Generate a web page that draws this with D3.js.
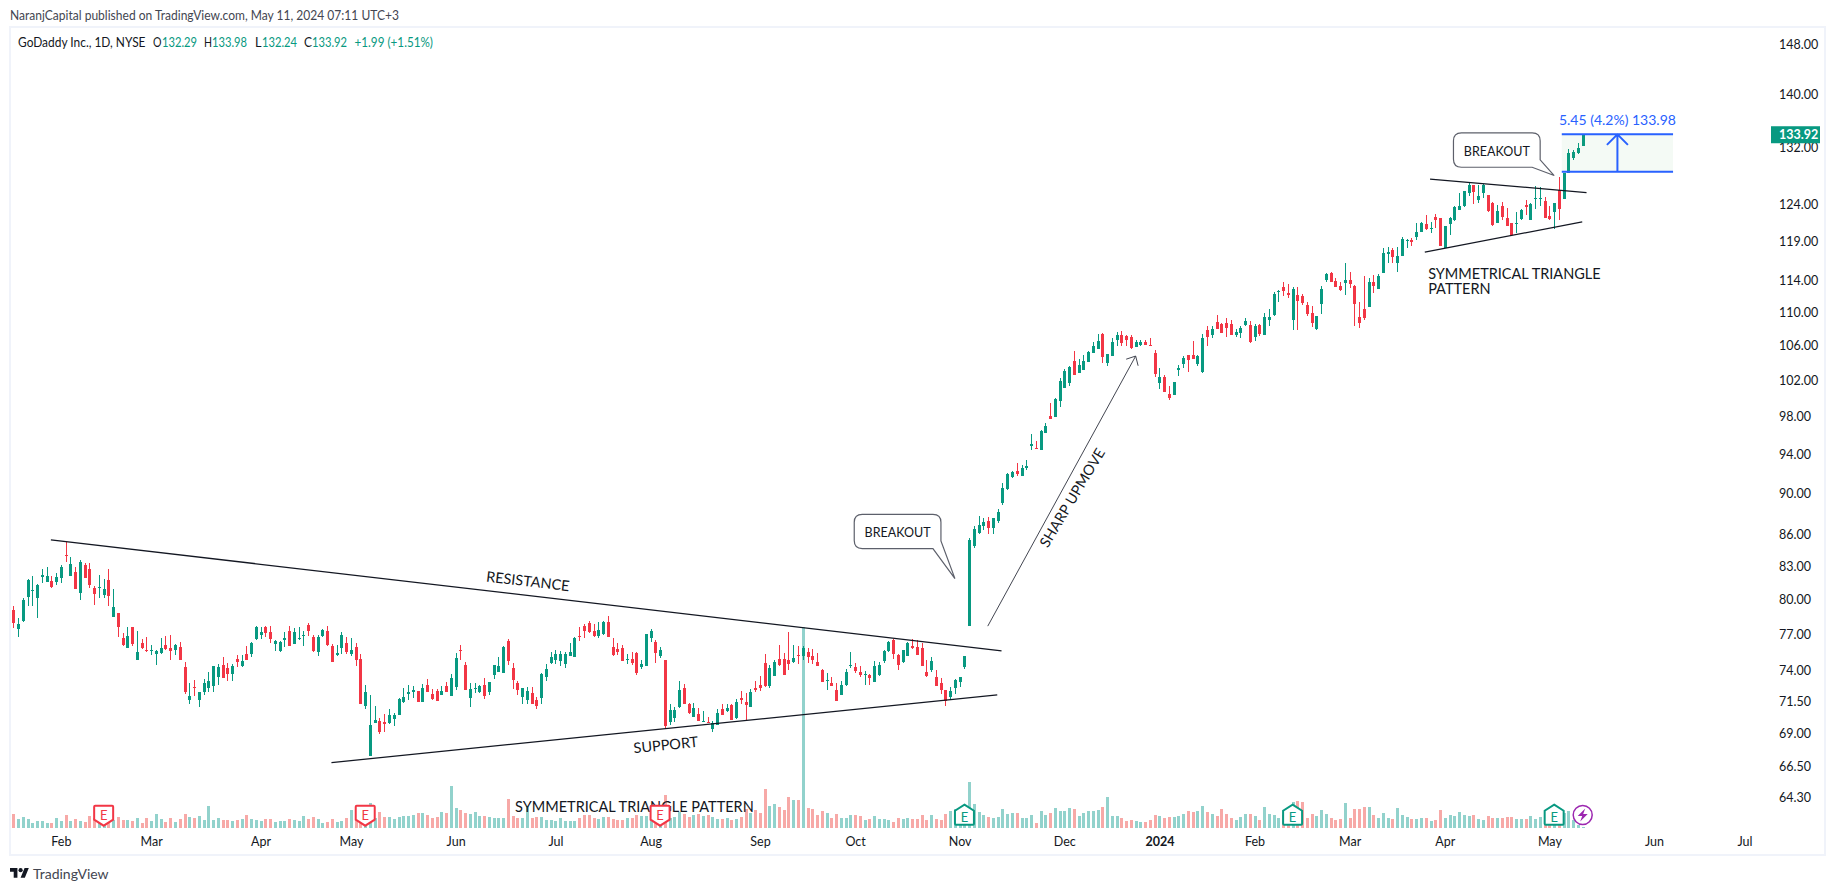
<!DOCTYPE html>
<html><head><meta charset="utf-8">
<script src="https://cdn.jsdelivr.net/npm/d3@7"></script>
<style>
html,body{margin:0;padding:0;background:#fff;overflow:hidden}
svg{display:block}
text{font-family:Lato,"Open Sans",sans-serif;fill:#131722}
</style></head><body>
<svg id="c" width="1835" height="891"></svg>
<script>
const opens=[79.11,77.49,78.17,80.29,80.82,80.2,82.09,81.63,81.69,81.6,
82.0,84.08,82.18,82.51,80.64,83.15,82.78,81.06,81.09,80.44,
81.78,78.52,78.84,76.69,75.88,77.6,74.88,76.27,75.68,75.62,
75.37,75.43,76.07,75.82,75.68,75.93,74.27,71.6,72.64,71.6,
72.24,72.59,72.75,73.47,74.43,74.17,73.71,74.96,74.35,75.34,
75.37,76.6,76.94,77.63,77.2,76.21,75.57,76.55,77.29,76.18,
76.6,76.91,77.83,76.77,75.51,76.86,77.29,76.02,75.29,75.85,
76.27,75.37,75.93,74.93,71.13,67.3,69.83,69.95,69.88,69.8,
70.1,70.42,71.45,72.08,72.24,72.32,71.45,72.8,72.08,72.32,
72.0,72.72,71.92,72.64,75.68,74.43,71.76,72.53,72.24,72.8,
72.24,73.6,73.84,73.79,76.44,74.15,72.93,71.84,71.6,72.16,
71.6,71.76,73.44,74.63,74.82,74.74,74.5,75.18,75.1,76.86,
77.72,77.97,77.29,76.86,77.03,78.06,75.93,75.76,75.85,74.85,
74.93,75.43,74.27,74.35,76.69,76.35,75.18,74.85,69.88,70.19,
71.03,72.56,71.29,70.27,70.5,69.9,69.88,69.33,69.65,70.9,
70.74,71.21,70.19,71.76,71.45,71.05,72.56,72.8,74.6,72.72,
73.52,74.93,74.93,74.85,74.68,75.26,75.18,75.51,75.18,74.68,
74.0,73.15,72.96,72.4,72.0,72.8,74.35,74.25,73.84,73.6,
73.6,73.04,73.6,74.77,75.59,76.52,75.26,74.68,75.18,
76.0,75.93,75.82,73.86,74.0,73.46,72.92,72.38,71.81,72.54,73.0,
74.25,77.7,84.91,86.1,86.81,87.3,86.61,87.26,89.01,90.48,
91.66,92.23,91.76,92.6,94.89,94.65,94.44,96.22,98.06,97.95,
99.69,101.15,101.72,104.22,102.85,103.18,104.1,105.12,105.63,107.38,
103.99,104.81,106.68,107.27,107.11,107.03,105.86,106.13,106.45,106.1,
105.16,101.72,102.4,100.48,100.37,103.22,103.87,104.93,104.95,103.9,
103.0,107.9,107.3,108.86,108.54,108.74,108.62,107.3,107.54,108.5,
108.5,107.06,108.5,107.3,109.1,109.7,112.49,113.16,112.41,109.1,
112.16,112.03,110.9,109.94,108.02,111.03,114.04,114.91,113.91,113.29,
113.66,114.04,113.29,109.46,110.42,110.66,113.79,112.91,114.91,117.38,
117.9,116.21,117.12,119.05,119.18,119.57,120.23,121.32,120.64,122.26,
122.13,118.14,121.32,121.86,123.21,123.76,125.55,126.68,124.57,125.55,
125.27,124.16,121.45,123.76,122.13,121.45,121.32,121.95,123.89,121.86,
124.71,124.71,124.43,122.4,122.94,125.97,124.71,128.41,130.51,131.25,132.29];
const closes=[78.0,77.89,79.99,81.78,80.88,81.33,82.24,82.15,81.18,82.03,
82.96,84.01,83.24,81.0,83.43,81.97,81.33,80.55,81.15,80.97,
80.35,79.34,77.66,76.13,76.86,76.18,75.51,75.85,75.62,75.68,
75.59,75.82,75.76,75.62,76.07,74.88,72.24,71.89,72.59,72.24,
72.93,73.12,74.33,74.25,73.36,73.71,74.38,74.68,74.77,74.85,
76.27,77.63,77.2,77.14,76.6,76.44,76.32,76.69,76.04,77.2,
76.69,76.97,77.32,75.57,76.77,77.34,76.1,74.68,75.43,76.94,
75.51,75.68,74.85,71.31,72.24,69.65,70.03,69.1,69.72,70.4,
70.42,71.68,71.84,72.24,72.4,71.45,72.56,72.24,71.68,71.53,
72.32,72.24,73.36,75.01,75.62,72.4,72.48,72.59,72.72,71.92,
73.02,74.43,74.35,75.93,74.77,73.2,72.4,72.53,72.32,71.29,
71.13,73.68,74.08,75.1,75.34,75.34,75.34,75.51,76.72,76.77,
77.29,77.2,76.86,77.37,78.06,76.77,75.26,75.51,74.77,74.93,
74.6,73.76,74.5,77.0,77.29,75.43,75.68,69.56,70.82,70.82,
72.4,71.29,70.58,70.97,69.95,69.95,69.83,69.8,70.55,70.42,
70.97,70.03,71.45,71.6,71.21,72.24,72.4,72.56,72.72,74.19,
74.68,74.43,73.6,74.5,75.01,75.21,75.85,75.1,74.85,74.35,
73.04,73.2,72.72,71.53,72.8,73.84,74.43,73.92,73.6,73.68,
73.36,74.35,74.43,75.59,76.35,75.34,74.43,75.68,76.27,
75.82,75.29,74.33,73.5,74.74,72.7,72.38,71.5,72.3,73.19,73.43,
75.2,85.47,86.52,86.91,87.2,86.61,87.55,88.17,90.51,91.96,
92.16,91.96,92.57,92.77,95.07,94.58,96.5,96.98,97.74,99.91,
101.94,103.11,103.52,102.58,103.76,104.22,105.27,105.98,106.56,104.65,
105.04,106.45,107.27,106.33,106.68,105.74,106.45,106.45,106.13,106.02,
102.73,102.4,100.7,99.99,101.83,103.41,104.57,104.34,104.48,104.83,
106.9,107.06,108.02,108.02,107.54,108.14,107.3,107.66,108.06,108.98,
106.47,108.38,107.42,109.46,109.46,112.28,112.58,112.66,112.16,112.91,
111.41,111.16,109.82,108.74,109.58,112.87,114.79,113.79,113.16,112.78,
114.04,113.54,111.03,108.74,109.34,113.79,113.29,114.54,117.51,117.64,
117.0,117.12,119.33,119.14,118.92,120.23,121.45,120.64,120.77,121.86,
118.4,121.04,122.13,123.62,123.76,125.83,126.68,125.69,125.13,126.68,
123.08,121.18,123.08,122.26,121.04,119.83,121.45,123.21,123.62,124.03,
124.85,124.85,122.13,122.0,124.16,123.35,128.31,131.2,131.39,131.93,133.92];
const highs=[79.46,78.38,80.13,81.84,82.15,81.42,82.75,82.99,82.15,82.39,
83.15,85.33,83.86,82.97,83.61,83.37,83.31,81.24,82.24,81.84,
82.75,80.97,78.84,77.09,77.6,77.6,77.26,76.6,76.77,76.13,
75.65,76.66,76.86,76.94,76.18,76.35,74.65,72.96,73.23,72.24,
73.28,73.84,74.36,74.49,75.12,74.63,74.54,75.26,75.26,76.02,
76.35,77.69,77.66,77.72,77.74,76.52,76.41,77.23,77.69,77.54,
77.63,77.29,77.97,76.94,76.97,77.46,77.69,76.18,76.07,77.17,
76.77,76.69,76.27,75.34,72.8,72.0,71.13,70.19,70.47,70.9,
70.58,71.75,72.56,72.8,72.72,72.32,72.88,73.28,72.48,72.45,
72.72,73.04,73.68,75.43,76.1,74.7,72.93,72.93,72.8,73.36,
73.02,74.43,75.12,75.99,76.6,74.57,73.12,72.56,72.64,72.64,
71.87,73.76,74.5,75.51,75.68,75.59,75.51,76.27,76.77,77.63,
77.89,78.12,77.89,78.06,78.14,78.58,76.69,76.27,76.1,75.34,
75.51,75.51,74.85,77.03,77.46,76.52,75.93,74.85,71.29,71.05,
73.12,72.88,71.37,71.37,70.97,70.74,70.27,69.95,70.9,71.29,
71.29,71.29,71.68,72.32,72.16,72.48,73.12,73.52,75.34,74.43,
74.85,76.1,75.43,77.2,76.1,76.02,76.0,75.85,75.76,75.43,
74.08,73.76,73.44,72.96,73.12,74.08,75.51,74.6,74.35,73.92,
73.68,74.77,74.68,75.68,76.44,76.6,75.34,75.68,76.35,
76.64,76.5,76.22,74.83,75.05,74.0,73.33,72.43,72.6,73.3,73.46,
75.2,85.63,86.81,87.78,87.55,87.65,87.59,88.43,91.05,92.03,
92.3,93.08,92.87,93.4,96.11,95.38,96.61,97.3,99.47,99.99,
102.28,103.3,103.64,105.39,104.46,104.93,105.39,106.45,107.38,107.46,
105.04,106.91,107.62,107.74,107.27,107.27,106.68,106.68,106.68,106.91,
105.51,103.41,102.62,101.38,101.87,103.76,104.81,104.93,106.58,104.95,
107.42,108.4,108.4,109.7,108.7,109.34,109.1,107.98,108.3,109.26,
108.9,108.54,108.62,109.86,110.42,112.45,112.78,113.7,113.54,113.12,
113.16,112.28,111.28,110.78,109.58,113.29,114.91,115.04,114.29,113.79,
116.21,115.04,113.41,111.28,114.54,114.29,114.66,114.79,118.16,118.29,
118.16,118.29,119.59,119.27,119.4,121.45,121.59,122.54,121.59,122.67,
122.13,121.04,122.26,123.76,125.55,125.88,126.96,126.68,126.63,126.82,
125.27,124.3,123.89,124.3,123.49,121.45,122.94,123.35,124.57,124.16,
126.54,126.35,124.99,123.76,124.16,127.8,128.31,131.78,131.68,132.66,133.98];
const lows=[77.54,76.8,78.06,79.46,79.46,78.43,81.48,81.57,81.09,81.36,
81.48,83.46,82.18,80.97,79.99,81.97,81.09,79.57,80.2,80.2,
79.48,78.52,76.8,76.02,75.88,76.02,74.88,75.76,75.54,75.23,
74.46,75.37,75.68,74.85,75.29,74.85,72.08,71.31,71.92,71.08,
72.0,72.27,72.27,72.83,73.36,73.12,73.12,74.3,74.22,74.85,
75.12,76.55,76.6,76.74,76.27,75.62,75.51,75.96,76.02,76.18,
76.52,76.02,76.86,75.51,75.18,76.8,76.02,74.68,75.18,75.34,
75.34,75.15,74.35,71.31,70.9,67.3,69.83,68.98,69.1,69.72,
69.57,70.42,71.37,71.6,71.76,71.45,71.45,72.24,71.6,71.53,
72.0,72.24,71.92,72.4,74.85,72.4,71.08,72.19,72.19,71.68,
72.03,73.28,73.84,73.73,74.43,72.48,72.0,71.29,71.29,71.29,
70.9,71.29,73.12,74.5,74.5,74.35,74.18,75.18,75.1,76.44,
76.69,77.09,76.77,76.69,76.94,76.77,75.18,75.26,74.74,74.5,
74.43,73.6,74.08,74.35,76.35,74.6,75.01,69.33,69.65,69.88,
70.97,71.29,70.5,70.27,69.95,69.88,69.8,69.1,69.65,70.42,
70.66,70.03,70.11,71.29,69.95,71.05,72.24,72.32,72.67,72.56,
73.52,74.35,73.6,74.0,74.6,74.5,74.85,74.6,74.5,74.35,
73.04,72.4,72.72,71.53,72.0,72.72,74.17,73.76,73.44,72.8,
72.8,73.04,73.52,74.6,75.51,74.93,74.0,74.6,75.18,
75.79,75.24,74.33,73.46,73.86,72.7,72.05,71.12,71.62,72.05,72.65,
74.07,77.7,84.76,86.04,86.42,86.04,86.04,87.13,88.85,90.34,
91.55,91.76,91.76,92.4,94.44,94.54,94.44,96.22,97.74,97.92,
99.04,101.15,101.38,102.58,102.81,103.18,104.1,105.12,105.63,103.99,
103.64,104.81,105.98,105.98,105.98,105.63,105.86,106.02,106.1,106.02,
102.4,101.04,100.7,99.8,100.37,102.51,103.41,102.96,104.48,103.7,
102.9,106.0,106.9,108.0,107.5,107.02,107.3,107.02,106.94,108.38,
106.35,106.58,107.18,107.3,108.38,109.58,111.28,112.03,111.78,107.9,
107.9,110.9,109.58,108.26,107.9,109.82,113.79,113.75,113.16,112.66,
112.16,113.04,108.38,108.14,109.1,110.66,112.41,112.91,114.91,116.21,
116.21,115.04,117.12,118.09,118.4,119.18,120.23,120.5,120.1,120.77,
118.4,118.14,119.83,121.72,123.21,123.67,125.13,124.03,124.12,124.85,
122.94,121.04,121.45,121.86,121.04,119.7,120.05,121.86,122.54,121.86,
123.35,123.76,122.13,121.86,120.64,121.86,124.71,128.41,130.22,131.1,132.24];
const volumesK=[1680,1080,1320,1080,600,840,840,600,600,1200,
840,1560,840,1080,840,720,1440,1200,600,480,
600,960,1320,960,960,840,1200,600,1200,840,
1680,1080,720,1200,720,1080,1680,1320,1200,1440,
960,2640,960,1200,960,960,840,960,1080,1560,
1080,960,840,1080,1080,720,840,840,1080,960,
840,1440,1080,1320,1080,600,720,1080,720,840,
1200,2160,1920,2400,2400,3000,1200,1920,1320,1320,
1080,1320,1440,1440,1560,1800,1800,1560,1200,1320,
1920,1800,5040,2400,2160,1800,1680,1920,1440,1440,
1320,1200,1200,1200,3480,1440,1200,1200,2640,1200,
1320,1320,960,960,840,1200,840,840,840,1200,
1560,1560,1200,1080,1320,1320,1080,960,960,1200,
1200,1560,1440,1440,960,720,600,3960,1200,1320,
1920,1680,1320,1560,1680,1440,1560,1320,1080,1080,
1200,960,1080,1320,2280,1760,2160,1760,4680,2640,
2880,2520,2160,3720,3360,3360,24120,2400,2280,1560,
2040,1800,1200,1680,1200,1200,1560,1560,1440,960,
1080,1440,1080,1080,960,720,1200,1080,1200,
1080,1080,1560,960,1560,1080,960,1680,2040,2280,1200,
1600,5520,2880,1920,1560,1320,1200,1320,2280,1680,
1800,1800,1200,1200,1560,600,2040,1560,1800,2400,
2040,2040,2400,2280,1440,1800,2040,2040,2160,2520,
3720,1440,1440,1200,840,960,840,720,720,960,
1560,1440,1200,1320,1320,1440,1680,2040,1920,2040,
2640,1920,1680,1440,2280,1680,1200,960,1320,1680,
1680,1440,960,2520,1680,1560,1200,1560,1760,3120,
3240,3120,1200,1680,1440,2160,1680,1200,960,1080,
3000,1200,2280,2280,2520,2520,1560,1200,1800,1200,
1080,2400,1560,1320,1080,1080,1200,1200,840,960,
2160,1200,1560,1440,1920,1560,1440,1560,1080,960,
1440,1200,1200,1200,1320,1320,1080,1080,1080,1440,
1080,1320,1440,1200,960,960,1760,2040,1000,400,160];

const priceTicks=[148,140,132,124,119,114,110,106,102,98,94,90,86,83,80,77,74,71.5,69,66.5,64.3];
const monthBars=[10,29,52,71,93,114,134,157,177,199,221,241,261,281,301,323,345,364];
const monthLabels=["Feb","Mar","Apr","May","Jun","Jul","Aug","Sep","Oct","Nov","Dec","2024","Feb","Mar","Apr","May","Jun","Jul"];
const earningsDown=[19,74,136];
const earningsUp=[200,269,324];
const dividendBar=[330];
const trendLines=[
  [[7.9,85.5],[207.8,75.6]],
  [[66.9,66.8],[206.9,72.0]],
  [[297.9,127.5],[330.8,125.6]],
  [[296.8,117.6],[329.9,121.6]]
];
const upmoveArrow=[[204.9,77.7],[236,104.8]];
const noteTexts=["RESISTANCE","SUPPORT","SYMMETRICAL TRIANGLE PATTERN","SHARP UPMOVE","SYMMETRICAL TRIANGLE","PATTERN"];
const noteBars=[108.2,137.2,130.6,222.6,297.5,297.5];
const notePrices=[81.7,68.15,63.6,89.6,114.8,112.9];
const noteAngles=[6.6,-5.8,0,-59,0,0];
const noteAnchors=["middle","middle","middle","middle","start","start"];
const calloutBars=[198,324];
const calloutPrices=[81.9,128.0];
const calloutText="BREAKOUT";
const measureBars=[325.6,349];
const measurePrices=[128.53,133.98];
const measureLabel="5.45 (4.2%) 133.98";
const lastClose=133.92;

const UP="#089981",DOWN="#f23645",VUP="#92d2cc",VDOWN="#f7a9a7",INK="#131722",BLUE="#2962ff";
const svg=d3.select("#c");
const x=d3.scaleLinear().domain([0,330]).range([13.3,1582.7]);
const y=d3.scaleLog().domain([148,64.3]).range([44.5,797]);
const v=d3.scaleLinear().domain([0,24120]).range([828,627]);
const bars=d3.range(opens.length);
const px=i=>Math.round(x(i));
const isUp=i=>closes[i]>=opens[i];

// frame
svg.append("rect").attr("x",10).attr("y",27).attr("width",1815).attr("height",828)
  .attr("fill","#fff").attr("stroke","#f0f3fa").attr("stroke-width",2);

// header
svg.append("text").attr("x",10).attr("y",19.5).attr("font-size",13)
  .attr("textLength",389).attr("lengthAdjust","spacingAndGlyphs")
  .style("fill","#434651").text("NaranjCapital published on TradingView.com, May 11, 2024 07:11 UTC+3");
const legendParts=[["GoDaddy Inc., 1D, NYSE",INK,18,127.5],["O",INK,153,8.5],["132.29",UP,162,35],["H",INK,204,8],["133.98",UP,212,35],["L",INK,255,6.5],["132.24",UP,262,35],["C",INK,304,8],["133.92",UP,312,35],["+1.99 (+1.51%)",UP,354.5,78.5]];
const lg=svg.append("g");
legendParts.forEach(d=>lg.append("text").attr("x",d[2]).attr("y",46.5).attr("font-size",13)
  .attr("textLength",d[3]).attr("lengthAdjust","spacingAndGlyphs").style("fill",d[1]).text(d[0]));

// volume
svg.append("g").attr("shape-rendering","crispEdges").selectAll("rect").data(bars).join("rect")
  .attr("x",i=>px(i)-1).attr("width",3)
  .attr("y",i=>v(volumesK[i])).attr("height",i=>v(0)-v(volumesK[i]))
  .attr("fill",i=>isUp(i)?VUP:VDOWN);

// candles
const cg=svg.append("g").attr("shape-rendering","crispEdges");
cg.selectAll("rect.w").data(bars).join("rect").attr("class","w")
  .attr("x",i=>px(i)).attr("width",1)
  .attr("y",i=>y(highs[i])).attr("height",i=>y(lows[i])-y(highs[i]))
  .attr("fill",i=>isUp(i)?UP:DOWN);
cg.selectAll("rect.b").data(bars).join("rect").attr("class","b")
  .attr("x",i=>px(i)-1).attr("width",3)
  .attr("y",i=>y(Math.max(opens[i],closes[i])))
  .attr("height",i=>Math.max(1,Math.abs(y(opens[i])-y(closes[i]))))
  .attr("fill",i=>isUp(i)?UP:DOWN);

// axes
const yAxis=d3.axisRight(y).tickValues(priceTicks).tickFormat(d3.format(".2f")).tickSize(0).tickPadding(0);
const yg=svg.append("g").attr("transform","translate(1779,0)").call(yAxis);
yg.select(".domain").remove();
yg.selectAll("text").attr("font-size",12.5).style("font-family","Lato").style("fill",INK);
const xAxis=d3.axisBottom(x).tickValues(monthBars).tickFormat((d,i)=>monthLabels[i]).tickSize(0).tickPadding(0);
const xg=svg.append("g").attr("transform","translate(0,837)").call(xAxis);
xg.select(".domain").remove();
xg.selectAll("text").attr("font-size",12.5).style("font-family","Lato").style("fill",INK)
  .attr("font-weight",(d,i)=>monthLabels[i]==="2024"?700:400);

// trend lines
const line=d3.line().x(d=>x(d[0])).y(d=>y(d[1]));
svg.append("g").selectAll("path").data(trendLines).join("path")
  .attr("d",line).attr("fill","none").attr("stroke",INK).attr("stroke-width",1.25);

// upmove arrow
const a0=upmoveArrow[0],a1=upmoveArrow[1];
const ax0=x(a0[0]),ay0=y(a0[1]),ax1=x(a1[0]),ay1=y(a1[1]);
const ang=Math.atan2(ay1-ay0,ax1-ax0);
const head=(ax,ay,angle,len,spread)=>`M${ax+len*Math.cos(angle+Math.PI-spread)},${ay+len*Math.sin(angle+Math.PI-spread)}L${ax},${ay}L${ax+len*Math.cos(angle+Math.PI+spread)},${ay+len*Math.sin(angle+Math.PI+spread)}`;
svg.append("path").attr("d",line(upmoveArrow)+head(ax1,ay1,ang,10,0.75))
  .attr("fill","none").attr("stroke","#434651").attr("stroke-width",1);

// notes
svg.append("g").selectAll("text").data(noteTexts).join("text")
  .attr("text-anchor",(d,i)=>noteAnchors[i]).attr("dominant-baseline","central")
  .attr("font-size",14.5)
  .attr("transform",(d,i)=>`translate(${x(noteBars[i])},${y(notePrices[i])}) rotate(${noteAngles[i]})`)
  .text(d=>d);

// callouts
const calloutLayout=[{top:-64.3,bottom:-30,back:-37.6},{top:-42.7,bottom:-8.3,back:-15.7}];
calloutBars.forEach((b,i)=>{
  const tx=x(b),ty=y(calloutPrices[i]),L=calloutLayout[i];
  const l=tx-100.7,r=tx-14,t=ty+L.top,bt=ty+L.bottom,rd=8;
  const d=`M${l+rd},${t}H${r-rd}Q${r},${t} ${r},${t+rd}V${ty+L.back}L${tx},${ty}L${tx-22},${bt}H${l+rd}Q${l},${bt} ${l},${bt-rd}V${t+rd}Q${l},${t} ${l+rd},${t}Z`;
  svg.append("path").attr("d",d).attr("fill","#fff").attr("fill-opacity",.95).attr("stroke","#5d606b").attr("stroke-width",1.2);
  svg.append("text").attr("x",(l+r)/2).attr("y",(t+bt)/2).attr("text-anchor","middle")
    .attr("dominant-baseline","central").attr("font-size",14)
    .attr("textLength",66).attr("lengthAdjust","spacingAndGlyphs").text(calloutText);
});

// measure box
const mx0=x(measureBars[0]),mx1=x(measureBars[1]),my0=y(measurePrices[0]),my1=y(measurePrices[1]),mc=(mx0+mx1)/2;
svg.append("rect").attr("x",mx0).attr("y",my1).attr("width",mx1-mx0).attr("height",my0-my1).attr("fill","#4caf50").attr("fill-opacity",.06);
const mg=svg.append("g").attr("fill","none").attr("stroke",BLUE).attr("stroke-width",2);
mg.append("path").attr("d",`M${mx0},${my1}H${mx1}M${mx0},${my0}H${mx1}M${mc},${my0}V${my1}M${mc-10.5},${my1+10.5}L${mc},${my1}L${mc+10.5},${my1+10.5}`);
svg.append("text").attr("x",mc).attr("y",my1-15).attr("text-anchor","middle").attr("dominant-baseline","central")
  .attr("font-size",14).style("fill",BLUE).text(measureLabel);

// last price tag
svg.append("rect").attr("x",1771).attr("y",y(lastClose)-8.5).attr("width",49).attr("height",17).attr("fill",UP);
svg.append("text").attr("x",1779).attr("y",y(lastClose)).attr("dominant-baseline","central")
  .attr("font-size",12.5).attr("font-weight",700).style("fill","#fff").text(d3.format(".2f")(lastClose));

// earnings badges
function badge(i,up){
  const c=up?UP:DOWN,cx=x(i),T=up?804.7:805.7,h=9.5;
  const d=up?`M${cx},${T}L${cx+h},${T+6}V${T+19}Q${cx+h},${T+20} ${cx+h-1},${T+20}H${cx-h+1}Q${cx-h},${T+20} ${cx-h},${T+19}V${T+6}Z`
            :`M${cx-h+1},${T}H${cx+h-1}Q${cx+h},${T} ${cx+h},${T+1}V${T+14}L${cx},${T+20}L${cx-h},${T+14}V${T+1}Q${cx-h},${T} ${cx-h+1},${T}Z`;
  svg.append("path").attr("d",d).attr("fill","#fff").attr("stroke",c).attr("stroke-width",2);
  svg.append("text").attr("x",cx).attr("y",T+(up?12:9)).attr("text-anchor","middle").attr("dominant-baseline","central")
    .attr("font-size",13).style("fill",c).text("E");
}
earningsDown.forEach(i=>badge(i,false));
earningsUp.forEach(i=>badge(i,true));

// flash marker
dividendBar.forEach(i=>{
  const cx=x(i),cy=815,P="#9c27b0";
  svg.append("circle").attr("cx",cx).attr("cy",cy).attr("r",9.5).attr("fill","#fff").attr("stroke",P).attr("stroke-width",1.5);
  svg.append("path").attr("d",`M${cx+2.5},${cy-6.5}L${cx-5},${cy+1}H${cx-0.5}L${cx-2.5},${cy+6.5}L${cx+5},${cy-1}H${cx+0.5}Z`).attr("fill",P);
});

// logo
const logo=svg.append("g").attr("transform","translate(10,866) scale(0.53)").attr("fill","#131722");
logo.append("path").attr("d","M14 22H7V11H0V4h14v18zM28 22h-8l7.5-18h8L28 22z");
logo.append("circle").attr("cx",20).attr("cy",8).attr("r",4);
svg.append("text").attr("x",33).attr("y",873).attr("dominant-baseline","central").attr("font-size",14).style("fill","#434651").text("TradingView");
</script>
</body></html>
